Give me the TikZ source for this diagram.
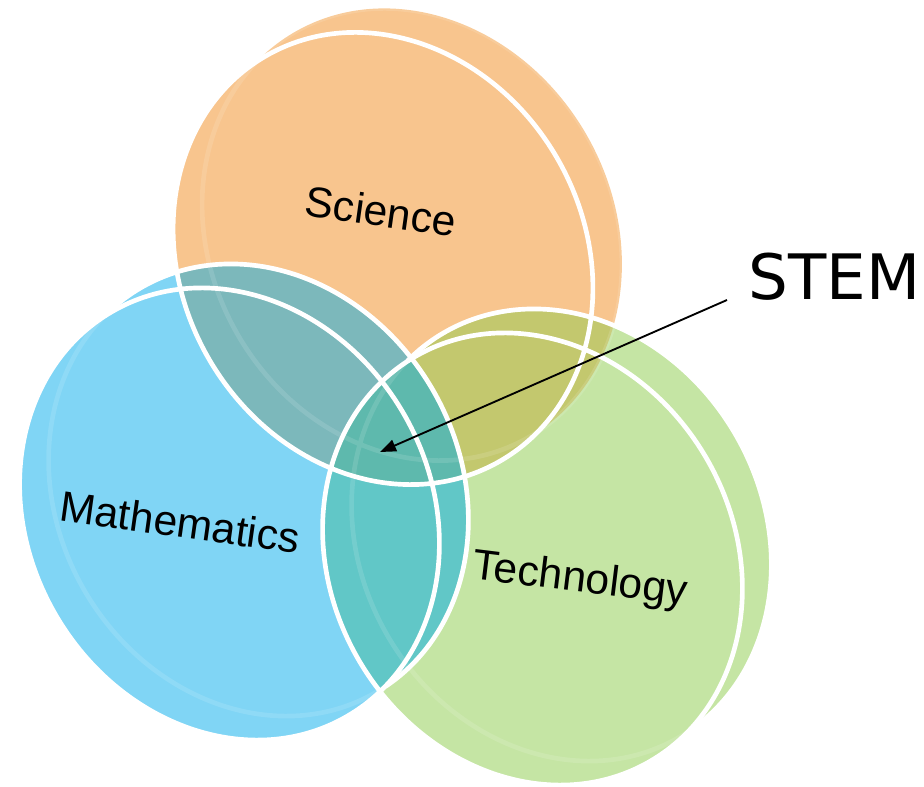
\documentclass[tikz,border=0pt]{standalone}
\usepackage{fontspec}
\setmainfont{Liberation Sans}
\newfontfamily\stemfont{DejaVu Sans}
\usetikzlibrary{arrows.meta}

\definecolor{sci}{HTML}{F8C58E}
\definecolor{mat}{HTML}{80D5F5}
\definecolor{tec}{HTML}{C5E5A4}
\definecolor{scimat}{HTML}{7CB8BB}
\definecolor{scitec}{HTML}{C3C86E}
\definecolor{mattec}{HTML}{61C7C7}
\definecolor{stemcol}{HTML}{5EB9AD}

\begin{document}
\begin{tikzpicture}[x=0.75pt, y=0.75pt,
  disc/.style={x radius=201, y radius=234, rotate=30.3},
  rim/.style={draw=white, line width=3.5pt},
  venntext/.style={font=\fontsize{32}{36}\selectfont, rotate=-8}]

\useasboundingbox (0,0) rectangle (924,786);

\coordinate (S) at (383,527.5);
\coordinate (M) at (229.5,272);
\coordinate (T) at (532.5,227);
\coordinate (Sb) at (412,551.5);
\coordinate (Mb) at (258.5,296);
\coordinate (Tb) at (561.5,251);

\fill[sci] (S) ellipse[disc] (Sb) ellipse[disc];
\fill[mat] (M) ellipse[disc] (Mb) ellipse[disc];
\fill[tec] (T) ellipse[disc] (Tb) ellipse[disc];

% overlaps
\begin{scope}
\clip (S) ellipse[disc] (Sb) ellipse[disc];
\fill[scimat] (M) ellipse[disc] (Mb) ellipse[disc];
\fill[scitec] (T) ellipse[disc] (Tb) ellipse[disc];
\clip (M) ellipse[disc] (Mb) ellipse[disc];
\fill[stemcol] (T) ellipse[disc] (Tb) ellipse[disc];
\end{scope}
\begin{scope}
\clip (M) ellipse[disc] (Mb) ellipse[disc];
\fill[mattec] (T) ellipse[disc] (Tb) ellipse[disc];
\clip (S) ellipse[disc] (Sb) ellipse[disc];
\fill[stemcol] (T) ellipse[disc] (Tb) ellipse[disc];
\end{scope}

% rims
\draw[rim, draw opacity=0.12] (Sb) ellipse[disc] (Mb) ellipse[disc] (Tb) ellipse[disc];
\begin{scope}[shift={(Mb)}, rotate=30.3]
\draw[rim] (-87:201 and 234) arc[start angle=-87, end angle=103, x radius=201, y radius=234];
\end{scope}
\begin{scope}[shift={(Tb)}, rotate=30.3]
\draw[rim] (-87:201 and 234) arc[start angle=-87, end angle=103, x radius=201, y radius=234];
\end{scope}
\draw[rim] (S) ellipse[disc] (M) ellipse[disc] (T) ellipse[disc];

\node[venntext] (science) at (381,575) {Science};
\node[venntext] (maths) at (180,264) {Mathematics};
\node[venntext, rotate=1] (techno) at (580,205) {Technology};
\node[anchor=base west, font=\stemfont\fontsize{47}{52}\selectfont] (stem) at (744,486) {STEM};

\coordinate (tail) at (727,486);
\coordinate (hub) at (380,334);
\draw[line width=1.4pt, -{Triangle[length=12pt, width=9pt]}] (tail) -- (hub);

\end{tikzpicture}
\end{document}
